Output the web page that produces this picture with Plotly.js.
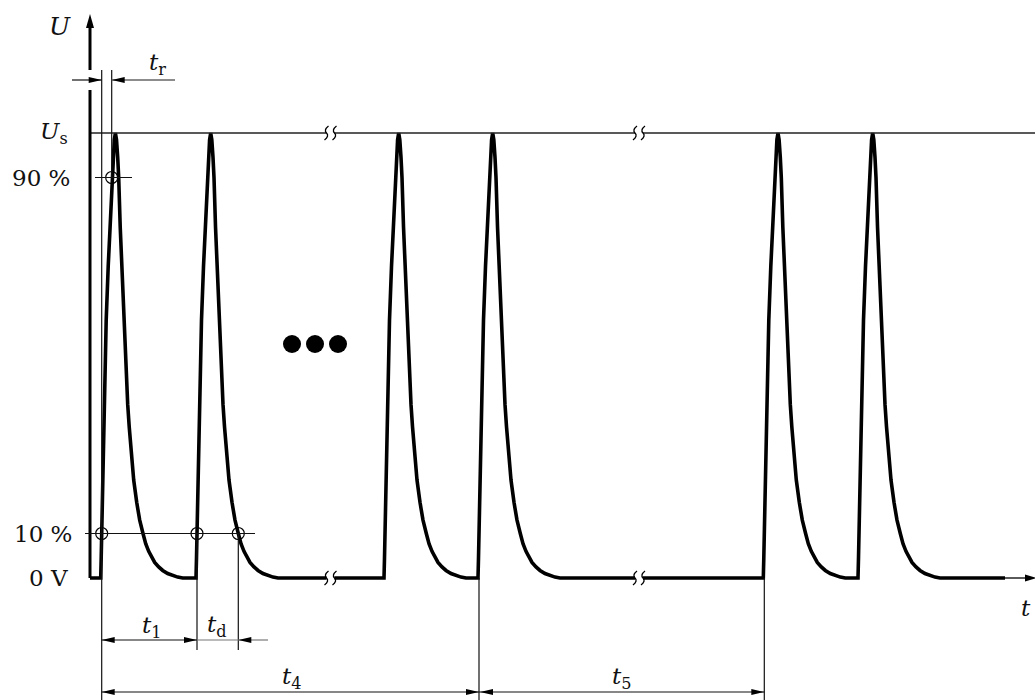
<!DOCTYPE html>
<html><head><meta charset="utf-8">
<script src="https://cdn.plot.ly/plotly-3.0.1.min.js"></script>
<style>html,body{margin:0;padding:0;background:#fff}#chart{width:1035px;height:700px}</style>
</head><body><div id="chart"></div>
<script>
// ---- data (time in arbitrary units, voltage as fraction of Us) ----
const pulseOffset = [0, 0.5, 1, 2, 3, 4, 5.5, 7.5, 9.5, 11, 12.4, 13.6, 14.7, 15.8, 17, 18, 19.5, 21, 22.5, 24, 25.5, 27, 28.5, 30.5, 33, 36, 39, 42.3, 45, 48, 51, 54, 58, 62, 67, 72, 77, 82];
const pulseLevel  = [0, 0.045, 0.1, 0.22, 0.35, 0.47, 0.58, 0.7, 0.8, 0.88, 0.945, 0.985, 1.0, 0.985, 0.945, 0.9, 0.79, 0.7, 0.61, 0.52, 0.45, 0.39, 0.34, 0.28, 0.22, 0.17, 0.13, 0.1, 0.077, 0.06, 0.046, 0.035, 0.025, 0.017, 0.01, 0.005, 0.002, 0];
const pulseStarts = [100.7, 196, 384, 478, 763.3, 858];
const segStarts   = [90, 334.5, 643];
const segEnds     = [326.5, 635, 1005];
const levelValues = [1, 0.9, 0.1, 0];              // Us, 90 %, 10 %, 0 V
const levelLabels = ['<i>U</i><sub>s</sub>', '90 %', '10 %', '0 V'];
const markX = [111.7, 101.7, 197, 238.3];          // measurement points
const markY = [0.9, 0.1, 0.1, 0.1];
const tR = [101.7, 111.7];                          // rise time limits
const t1 = [101.7, 197];
const tD = [197, 238.3];
const t4 = [101.7, 479];
const t5 = [479, 764.3];
const dotsX = [292, 315, 338];

// ---- helpers ----
const Y = py => (578 - py) / 445;                   // page pixel row -> value
const FONT = 'DejaVu Serif';
const INK = '#111';

// signal trace
const sx = [], sy = [];
segStarts.forEach((s, i) => {
  const e = segEnds[i];
  sx.push(s); sy.push(0);
  pulseStarts.filter(p => p >= s && p < e).forEach(p => {
    pulseOffset.forEach((o, k) => { sx.push(p + o); sy.push(pulseLevel[k]); });
  });
  sx.push(e); sy.push(0);
  sx.push(null); sy.push(null);
});

const shapes = [];
function line(x0, y0, x1, y1, w, c) {
  shapes.push({type: 'line', xref: 'x', yref: 'y', x0, y0, x1, y1, line: {color: c || INK, width: w || 1.2}, layer: 'above'});
}
function head(x, y, dir, len, hw) {
  len = len || 13; hw = hw || 3;
  let p;
  if (dir === 'right') p = `M0,0 L${-len},${hw} L${-len},${-hw} Z`;
  if (dir === 'left')  p = `M0,0 L${len},${hw} L${len},${-hw} Z`;
  if (dir === 'up')    p = `M0,0 L${hw},${-len} L${-hw},${-len} Z`;
  shapes.push({type: 'path', xref: 'x', yref: 'y', xsizemode: 'pixel', ysizemode: 'pixel',
    xanchor: x, yanchor: y, path: p, fillcolor: '#000', line: {width: 0}, layer: 'above'});
}
function wave(x, y) {
  shapes.push({type: 'path', xref: 'x', yref: 'y', xsizemode: 'pixel', ysizemode: 'pixel',
    xanchor: x, yanchor: y, path: 'M2,7 Q-3,3 0,0 Q3,-3 -2,-7', line: {color: '#000', width: 1.3}, layer: 'above'});
}

// Us reference line (with breaks)
segStarts.forEach((s, i) => line(s, levelValues[0], i === segStarts.length - 1 ? 1035 : segEnds[i], levelValues[0], 1.4, '#222'));
// breaks
for (let i = 0; i < segStarts.length - 1; i++) {
  [levelValues[0], 0].forEach(v => { wave(segEnds[i], v); wave(segStarts[i + 1], v); });
}
// y axis
line(90, 0, 90, Y(90), 3, '#000');
line(90, Y(70), 90, Y(24), 3, '#000');
head(90, Y(14), 'up', 14, 4);
// x axis tail + arrow
line(segEnds[2] - 5, 0, 1030, 0, 1.3, '#000');
head(1037, 0, 'right', 12, 3.5);
// level lines
line(95, levelValues[1], 132, levelValues[1]);
line(85, levelValues[2], 255, levelValues[2]);
// rise time
line(tR[0], Y(70), tR[0], Y(700));
line(tR[1], Y(70), tR[1], levelValues[1]);
line(72, Y(80), tR[0], Y(80)); head(tR[0], Y(80), 'right');
line(tR[1], Y(80), 175, Y(80), 1.4, '#666'); head(tR[1], Y(80), 'left');
// t1 / td
line(t1[1], levelValues[2], t1[1], Y(650));
line(tD[1], levelValues[2], tD[1], Y(650));
line(t1[0], Y(640), t1[1], Y(640)); head(t1[0], Y(640), 'left'); head(t1[1], Y(640), 'right');
line(tD[0], Y(640), tD[1], Y(640), 1.2, '#777');
line(tD[1], Y(640), 268, Y(640), 1.2, '#777'); head(tD[1], Y(640), 'left');
// t4 / t5
line(t4[1], 0, t4[1], Y(700));
line(t5[1], 0, t5[1], Y(700));
line(t4[0], Y(692), t4[1], Y(692)); head(t4[0], Y(692), 'left'); head(t4[1], Y(692), 'right');
line(t5[0], Y(692), t5[1], Y(692)); head(t5[0] + 1, Y(692), 'left'); head(t5[1], Y(692), 'right');

// annotations
const ann = [];
function lab(x, y, text, xa, size) {
  ann.push({x, y, xref: 'x', yref: 'y', text, showarrow: false, xanchor: xa || 'center', yanchor: 'middle',
    font: {family: FONT, size: size || 23, color: '#111'}});
}
lab(60, Y(26), '<i>U</i>', 'center', 25);
lab(70, levelValues[0], levelLabels[0], 'right');
lab(72, levelValues[1], levelLabels[1], 'right');
lab(74, levelValues[2], levelLabels[2], 'right');
lab(70, levelValues[3], levelLabels[3], 'right');
lab(157, Y(64), '<i>t</i><sub>r</sub>');
lab(152, Y(627), '<i>t</i><sub>1</sub>');
lab(217, Y(626), '<i>t</i><sub>d</sub>');
lab(292, Y(678), '<i>t</i><sub>4</sub>');
lab(622, Y(678), '<i>t</i><sub>5</sub>');
lab(1033, Y(608), '<i>t</i>', 'right');

const traces = [
  {x: sx, y: sy, mode: 'lines', line: {color: '#000', width: 3.6, shape: 'linear'},
   connectgaps: false, hoverinfo: 'skip'},
  {x: markX, y: markY, mode: 'markers', marker: {symbol: 'circle-open', size: 12, color: '#000', line: {width: 1.2}}, hoverinfo: 'skip'},
  {x: dotsX, y: dotsX.map(() => Y(344)), mode: 'markers', marker: {symbol: 'circle', size: 18, color: '#000'}, hoverinfo: 'skip'}
];

const layout = {
  width: 1035, height: 700, margin: {l: 0, r: 0, t: 0, b: 0},
  paper_bgcolor: '#fff', plot_bgcolor: '#fff', showlegend: false,
  xaxis: {range: [0, 1035], visible: false, fixedrange: true},
  yaxis: {range: [Y(700), Y(0)], visible: false, fixedrange: true},
  shapes, annotations: ann
};
Plotly.newPlot('chart', traces, layout, {displayModeBar: false, staticPlot: true});
</script></body></html>
